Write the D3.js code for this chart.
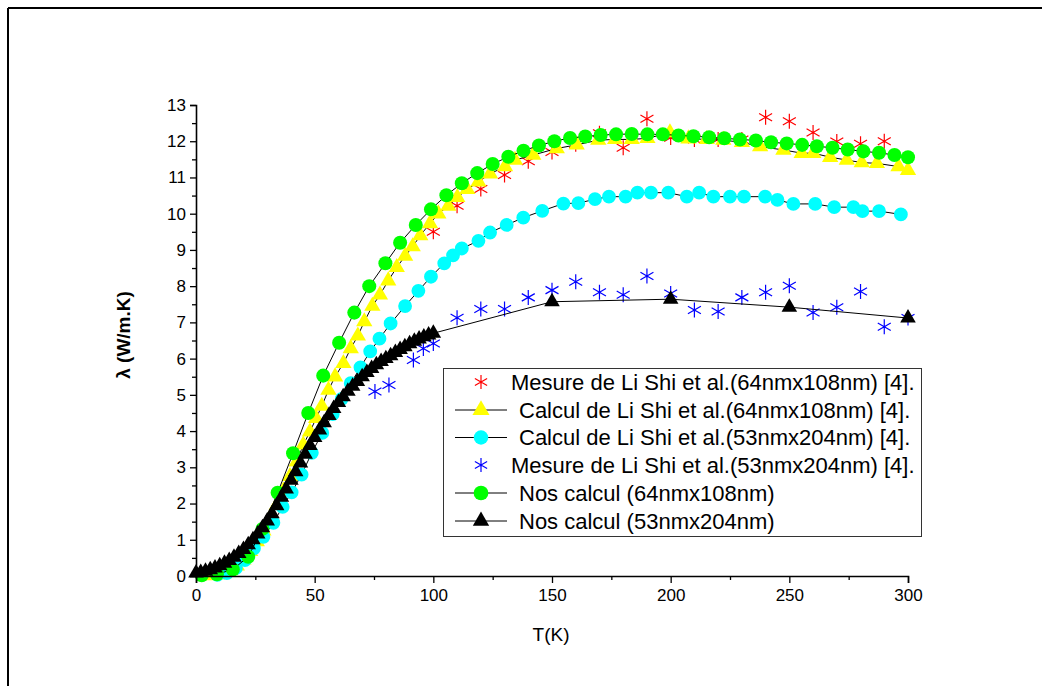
<!DOCTYPE html>
<html>
<head>
<meta charset="utf-8">
<script src="https://cdn.jsdelivr.net/npm/d3@7"></script>
<style>
  html, body { margin: 0; padding: 0; background: #fff; }
  svg { display: block; font-family: Arial, "Liberation Sans", sans-serif; }
</style>
</head>
<body>
<svg id="chart" width="1042" height="686"></svg>
<script>
// ---------------- DATA ----------------
const xTicks = [0, 50, 100, 150, 200, 250, 300];
const yTicks = [0, 1, 2, 3, 4, 5, 6, 7, 8, 9, 10, 11, 12, 13];

const legendLabels = [
  "Mesure de Li Shi et al.(64nmx108nm) [4].",
  "Calcul de Li Shi et al.(64nmx108nm) [4].",
  "Calcul de Li Shi et al.(53nmx204nm) [4].",
  "Mesure de Li Shi et al.(53nmx204nm) [4].",
  "Nos calcul (64nmx108nm)",
  "Nos calcul (53nmx204nm)"
];

// Mesure 64x108 (red asterisks)
const redT = [100, 110, 120, 130, 140, 150, 160, 170, 180, 190, 200, 210, 220, 230, 240, 250, 260, 270, 280, 290];
const redV = [9.5, 10.22, 10.68, 11.07, 11.45, 11.7, 11.92, 12.22, 11.82, 12.62, 12.1, 12.05, 12.05, 12.05, 12.66, 12.55, 12.24, 11.99, 11.93, 12.0];

// Calcul Li Shi 64x108 (yellow triangles)
const yelT = [6, 8.8, 11.6, 14.4, 17.2, 20, 22.8, 25.6, 28.4, 31.2, 34, 36.8, 39.6, 42.4, 45.2, 48, 50.6, 53, 55.8, 58.6, 62.1, 65.2, 68.2, 70.9, 74.3, 77.5, 81, 84.6, 88.1, 91.3, 94.5, 98.6, 102.1, 106.3, 110.1, 114.3, 119, 123.9, 130.2, 134.4, 142.1, 152, 160.4, 169.5, 176.6, 183.6, 190.2, 199.7, 207.5, 215.2, 222.2, 230, 237.7, 247.5, 255.2, 260.1, 267.2, 274.2, 280.5, 286.9, 296, 300];
const yelV = [0.01, 0.03, 0.07, 0.15, 0.28, 0.45, 0.68, 0.95, 1.25, 1.6, 1.95, 2.35, 2.75, 3.15, 3.62, 3.98, 4.35, 4.69, 5.13, 5.5, 5.87, 6.28, 6.63, 7.02, 7.45, 7.76, 8.15, 8.52, 8.83, 9.09, 9.4, 9.73, 10.0, 10.21, 10.45, 10.67, 10.88, 11.1, 11.3, 11.48, 11.62, 11.8, 11.9, 12.03, 12.05, 12.05, 12.08, 12.24, 12.07, 12.05, 12.03, 11.97, 11.85, 11.76, 11.67, 11.67, 11.56, 11.48, 11.41, 11.39, 11.3, 11.2];

// Calcul Li Shi 53x204 (cyan circles)
const cyaT = [9, 13, 16.8, 20.6, 24.4, 28.4, 32.6, 36.5, 40.3, 44.5, 48.8, 53.2, 57.6, 61.4, 65.2, 69.3, 73.4, 77.3, 82, 88.1, 93.7, 99, 104.6, 108.3, 112, 119, 123.9, 130.9, 137.9, 145.9, 154.8, 161.1, 168.1, 174, 181, 186, 191.7, 199, 206.8, 212, 218, 225, 230.9, 239.8, 245, 251.7, 260.9, 268.9, 277, 280.8, 287.8, 297];
const cyaV = [0.03, 0.08, 0.22, 0.44, 0.76, 1.08, 1.47, 1.91, 2.31, 2.8, 3.4, 3.95, 4.47, 4.89, 5.32, 5.76, 6.2, 6.55, 6.97, 7.45, 7.87, 8.26, 8.63, 8.85, 9.04, 9.25, 9.48, 9.69, 9.89, 10.08, 10.28, 10.29, 10.4, 10.47, 10.47, 10.58, 10.58, 10.58, 10.47, 10.58, 10.47, 10.47, 10.47, 10.47, 10.38, 10.27, 10.27, 10.18, 10.18, 10.07, 10.07, 9.98];

// Mesure 53x204 (blue asterisks)
const bluT = [75.4, 81.3, 91.6, 95.8, 100, 110, 120, 130, 140, 150, 160, 170, 180, 190, 200, 210, 220, 230, 240, 250, 260, 270, 280, 290, 300];
const bluV = [5.09, 5.27, 5.96, 6.28, 6.42, 7.13, 7.37, 7.37, 7.69, 7.89, 8.12, 7.83, 7.76, 8.28, 7.8, 7.34, 7.3, 7.69, 7.83, 8.01, 7.27, 7.42, 7.85, 6.88, 7.12];

// Nos calcul 64x108 (green circles)
const grnT = [2.4, 8.8, 15.5, 22, 28, 34.4, 40.9, 47.3, 53.6, 60.3, 66.7, 73, 79.8, 86, 92.6, 99, 105.5, 112, 118.5, 125, 131.6, 138, 144.5, 151, 157.6, 164, 170.5, 177, 183.6, 190.2, 196.7, 203.3, 209.6, 216.2, 222.6, 229.2, 235.9, 242.3, 248.9, 255.4, 261.6, 268.2, 274.6, 281.2, 287.8, 294.3, 300];
const grnV = [0.02, 0.05, 0.18, 0.53, 1.3, 2.3, 3.39, 4.5, 5.53, 6.44, 7.27, 8.0, 8.63, 9.2, 9.69, 10.12, 10.51, 10.84, 11.12, 11.37, 11.57, 11.74, 11.88, 12.0, 12.09, 12.13, 12.17, 12.19, 12.2, 12.19, 12.19, 12.16, 12.14, 12.11, 12.08, 12.05, 12.02, 11.97, 11.94, 11.9, 11.86, 11.82, 11.77, 11.72, 11.68, 11.62, 11.56];

// Nos calcul 53x204 (black triangles)
const blkT = [0, 2, 4, 6, 8, 10, 12, 14, 16, 18, 20, 22, 24, 26, 28, 30, 32, 34, 36, 38, 40, 42, 44, 46, 48, 50, 52, 54, 56, 58, 60, 62, 64, 66, 68, 70, 72, 74, 76, 78, 80, 82, 84, 86, 88, 90, 92, 94, 96, 98, 100, 150, 200, 250, 300];
const blkV = [0.08, 0.1, 0.13, 0.17, 0.22, 0.28, 0.35, 0.43, 0.52, 0.62, 0.73, 0.86, 1.0, 1.16, 1.33, 1.52, 1.72, 1.94, 2.17, 2.4, 2.64, 2.88, 3.12, 3.36, 3.6, 3.82, 4.03, 4.23, 4.43, 4.62, 4.79, 4.95, 5.1, 5.24, 5.37, 5.5, 5.62, 5.73, 5.83, 5.92, 6.0, 6.08, 6.17, 6.25, 6.33, 6.41, 6.48, 6.54, 6.6, 6.65, 6.7, 7.57, 7.64, 7.42, 7.12];

// ---------------- CHART ----------------
const svg = d3.select("#chart");

// outer frame
svg.append("line").attr("x1", 8).attr("x2", 1042).attr("y1", 8).attr("y2", 8)
  .attr("stroke", "#000").attr("stroke-width", 2);
svg.append("line").attr("x1", 8).attr("x2", 8).attr("y1", 8).attr("y2", 686)
  .attr("stroke", "#000").attr("stroke-width", 2);

const x = d3.scaleLinear().domain([0, 300]).range([196, 908]);
const y = d3.scaleLinear().domain([0, 13]).range([576, 105]);

// asterisk symbol type
const asterisk = {
  draw(ctx, size) {
    const r = Math.sqrt(size) / 2;
    for (let k = 0; k < 3; k++) {
      const a = Math.PI / 2 + k * Math.PI / 3;
      ctx.moveTo(r * Math.cos(a), -r * Math.sin(a));
      ctx.lineTo(-r * Math.cos(a), r * Math.sin(a));
    }
  }
};

const series = [
  { T: redT, V: redV, line: false, type: asterisk, size: 225, fill: "none", stroke: "#ff0000", sw: 1.2 },
  { T: yelT, V: yelV, line: true, type: d3.symbolTriangle, size: 115, fill: "#ffff00", stroke: "none", sw: 0 },
  { T: cyaT, V: cyaV, line: true, type: d3.symbolCircle, size: 150, fill: "#00ffff", stroke: "none", sw: 0 },
  { T: bluT, V: bluV, line: false, type: asterisk, size: 225, fill: "none", stroke: "#0000ff", sw: 1.2 },
  { T: grnT, V: grnV, line: true, type: d3.symbolCircle, size: 155, fill: "#00ff00", stroke: "none", sw: 0 },
  { T: blkT, V: blkV, line: true, type: d3.symbolTriangle, size: 105, fill: "#000000", stroke: "none", sw: 0 }
];

const lineGen = d3.line().x(d => x(d[0])).y(d => y(d[1]));

series.forEach(s => {
  const pts = s.T.map((t, i) => [t, s.V[i]]);
  const g = svg.append("g");
  if (s.line) {
    g.append("path").datum(pts).attr("d", lineGen)
      .attr("fill", "none").attr("stroke", "#000").attr("stroke-width", 1);
  }
  g.selectAll("path.m").data(pts).join("path").attr("class", "m")
    .attr("transform", d => `translate(${x(d[0])},${y(d[1])})`)
    .attr("d", d3.symbol().type(s.type).size(s.size))
    .attr("fill", s.fill).attr("stroke", s.stroke).attr("stroke-width", s.sw);
});

// axes
svg.append("g").attr("transform", "translate(0,576)")
  .call(d3.axisBottom(x).tickValues(xTicks).tickSize(7).tickPadding(6).tickFormat(d3.format("d")));
svg.append("g").attr("transform", "translate(0,576)")
  .call(d3.axisBottom(x).tickValues(d3.range(25, 300, 50)).tickSize(4).tickFormat(""))
  .select(".domain").remove();
svg.append("g").attr("transform", "translate(196,0)")
  .call(d3.axisLeft(y).tickValues(yTicks).tickSize(6).tickPadding(4).tickFormat(d3.format("d")));
svg.append("g").attr("transform", "translate(196,0)")
  .call(d3.axisLeft(y).tickValues(d3.range(0.5, 13, 1)).tickSize(4).tickFormat(""))
  .select(".domain").remove();

svg.selectAll(".domain").attr("stroke", "#000").attr("stroke-width", 1.6);
svg.selectAll(".tick line").attr("stroke", "#000").attr("stroke-width", 1.3);
svg.selectAll(".tick text").attr("font-size", 17).attr("fill", "#000")
  .attr("font-family", "Arial, 'Liberation Sans', sans-serif");

// axis titles
svg.append("text").attr("x", 551).attr("y", 641).attr("text-anchor", "middle")
  .attr("font-size", 19).text("T(K)");
svg.append("text").attr("transform", "translate(130,335) rotate(-90)")
  .attr("text-anchor", "middle").attr("font-size", 19).attr("font-weight", "bold")
  .text("λ (W/m.K)");

// legend
const lg = svg.append("g");
lg.append("rect").attr("x", 443.5).attr("y", 368.5).attr("width", 478).attr("height", 168)
  .attr("fill", "#fff").attr("stroke", "#333").attr("stroke-width", 1);
const rowY = [382, 410, 437.5, 465, 493, 521];
series.forEach((s, i) => {
  const cy = rowY[i];
  if (s.line) {
    lg.append("line").attr("x1", 455).attr("x2", 507).attr("y1", cy).attr("y2", cy)
      .attr("stroke", "#000").attr("stroke-width", 1);
  }
  lg.append("path").attr("transform", `translate(481,${cy})`)
    .attr("d", d3.symbol().type(s.type).size(s.line ? s.size * 1.1 : 200))
    .attr("fill", s.fill).attr("stroke", s.stroke).attr("stroke-width", s.sw);
  lg.append("text").attr("x", s.line ? 519 : 511).attr("y", cy).attr("dy", "0.36em")
    .attr("font-size", 22).text(legendLabels[i]);
});
</script>
</body>
</html>
